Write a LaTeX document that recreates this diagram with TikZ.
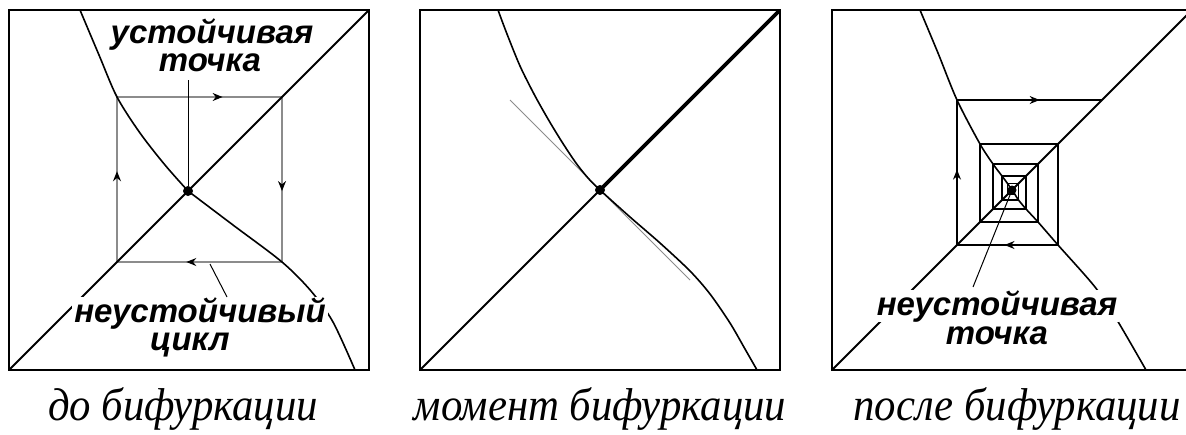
\documentclass[tikz,border=0pt]{standalone}
\usepackage{fontspec}
\usetikzlibrary{arrows.meta,decorations.markings}
\newfontfamily\labfont{Liberation Sans}[FakeStretch=1.0]
\newfontfamily\capfont{Liberation Serif}[FakeStretch=0.93]
\tikzset{
  frame/.style={line width=1.8pt},
  diagline/.style={line width=1.8pt},
  thickdiag/.style={line width=3.6pt},
  fcurve/.style={line width=1.6pt},
  cycline/.style={draw=black!45,line width=1.2pt},
  webline/.style={line width=1.4pt,line join=miter},
  pointer/.style={line width=1pt},
  tangline/.style={draw=black!45,line width=1pt},
  fixdot/.style={circle,fill=black,inner sep=0pt,minimum size=10pt},
  lab/.style={font=\labfont\bfseries\itshape\fontsize{33}{28}\selectfont,inner xsep=2pt,inner ysep=0pt,anchor=base},
  labw/.style={lab,fill=white},
  captext/.style={font=\capfont\itshape\fontsize{46}{46}\selectfont,anchor=base,inner sep=0pt},
  arrowat/.style={postaction={decorate},decoration={markings,mark=at position #1 with {\arrow{Stealth[length=10pt,width=8pt,color=black]}}}},
}
\begin{document}
\begin{tikzpicture}[x=1pt,y=-1pt]
\useasboundingbox (0,0) rectangle (1186,434);
\fill[white] (0,0) rectangle (1186,434);
\clip (0,0) rectangle (1186,434);

% ---------- panel 1 ----------
\draw[cycline,arrowat=0.64] (117,97) -- (282,97);
\draw[cycline,arrowat=0.57] (282,97) -- (282,262);
\draw[cycline,arrowat=0.58] (282,262) -- (117,262);
\draw[cycline,arrowat=0.55] (117,262) -- (117,97);
\draw[frame] (9,10) rectangle (369,370);
\draw[diagline] (9,370) -- (369,10);
\draw[fcurve] plot[smooth] coordinates {(80,10) (99,55) (117,97) (140,133) (165,165) (188,191)};
\draw[fcurve] plot[smooth] coordinates {(188,191) (233,225) (282,262) (311,291) (333,322) (355,370)};

% ---------- panel 2 ----------
\draw[frame] (420,10) rectangle (780,370);
\draw[tangline] (510,100) -- (690,280);
\draw[diagline] (420,370) -- (600,190);
\draw[thickdiag] (600,190) -- (779,11);
\draw[fcurve] plot[smooth] coordinates {(498,10) (507,34) (520,66) (534,94) (548,119) (562,142) (576,163) (588,178) (600,190) (630,217) (660,243) (690,271) (710,294) (730,323) (745,349) (757,370)};

% ---------- panel 3 ----------
\draw[frame] (832,10) rectangle (1192,370);
\draw[diagline] (832,370) -- (1192,10);
\draw[fcurve] plot[smooth] coordinates {(920,10) (938,53) (957,100) (980,144) (993,164) (1002,176) (1007.5,183.5) (1012,190) (1015,194.5) (1018.5,200) (1026,209) (1038,222) (1058,245) (1095,287) (1117,320) (1146,370)};
\draw[webline] (1015,194.5) -- (1007.5,194.5) -- (1007.5,183.5) -- (1018.5,183.5)
  -- (1018.5,200) -- (1002,200) -- (1002,176) -- (1026,176) -- (1026,209)
  -- (993,209) -- (993,164) -- (1038,164) -- (1038,222) -- (980,222)
  -- (980,144) -- (1058,144) -- (1058,245) -- (957,245) -- (957,100) -- (1102,100);
\draw[webline,arrowat=0.53] (1058,245) -- (957,245);
\draw[webline,arrowat=0.52] (957,245) -- (957,100);
\draw[webline,arrowat=0.57] (957,100) -- (1102,100);

% ---------- labels ----------
\node[lab] (st1a) at (212,43) {устойчивая};
\node[lab] (st1b) at (210,71) {точка};
\node[labw] (un1a) at (200,322) {неустойчивый};
\node[lab] (un1b) at (190,350) {цикл};
\node[labw] (un3a) at (997,315) {неустойчивая};
\node[lab] (un3b) at (997,344) {точка};

% ---------- fixed points ----------
\node[fixdot] (dot1) at (188,191) {};
\node[fixdot] (dot2) at (600,190) {};
\node[fixdot,minimum size=9pt] (dot3) at (1012,190) {};

% ---------- pointers ----------
\coordinate (p1top) at (188,80);
\draw[pointer] (p1top) -- (dot1);
\coordinate (p1u) at (227,297);
\coordinate (p1v) at (210,264);
\draw[pointer] (p1u) -- (p1v);
\coordinate (p3u) at (973,287);
\draw[pointer] (p3u) -- (dot3);

% ---------- captions ----------
\node[captext] (c1) at (183,420) {до бифуркации};
\node[captext] (c2) at (600,420) {момент бифуркации};
\node[captext] (c3) at (1017,420) {после бифуркации};
\end{tikzpicture}
\end{document}
